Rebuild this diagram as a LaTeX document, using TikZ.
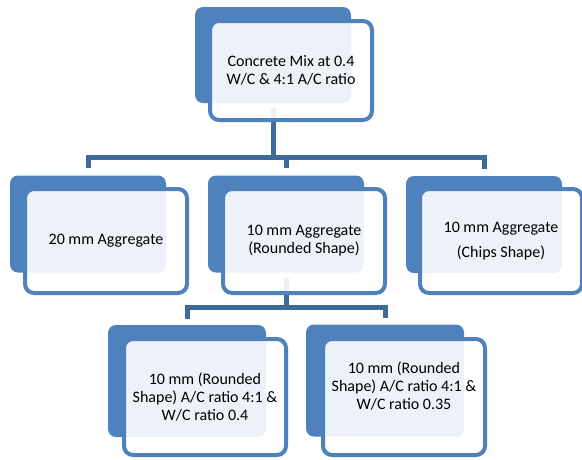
\documentclass[tikz,border=0pt]{standalone}
\usepackage{fontspec}
\setmainfont{Carlito}
\usepackage{xcolor}
\definecolor{cobalt}{HTML}{4F81BD}
\definecolor{denim}{HTML}{3F6A9C}
\usepackage{tikz}
\usetikzlibrary{positioning}

\tikzset{
  backbox/.style={rectangle, rounded corners=8pt, fill=cobalt, inner sep=0pt,
    minimum width=156pt, minimum height=97pt},
  frontbox/.style={rectangle, rounded corners=9pt, draw=cobalt, line width=4pt,
    fill=white, fill opacity=0.9, text opacity=1, text=black, align=center,
    minimum width=162pt, minimum height=104pt,
    font=\fontsize{16}{18}\selectfont},
  link/.style={draw=denim, line width=5pt},
}

\begin{document}
\begin{tikzpicture}[x=1pt, y=-1pt]
  \useasboundingbox (0,0) rectangle (582,459);

  % Back plates
  \node[backbox, minimum height=96pt] (concreteback) at (273,55) {};
  \node[backbox] (agg20back)  at (88,224) {};
  \node[backbox] (agg10rback) at (286,224) {};
  \node[backbox] (agg10cback) at (484,224.5) {};
  \node[backbox, minimum width=158pt, minimum height=112pt] (ratio40back) at (187,381) {};
  \node[backbox, minimum width=158pt, minimum height=112pt] (ratio35back) at (385,380.5) {};

  % Links, level 1
  \coordinate (bus1) at (273,157);
  \draw[link, shorten <=5pt] (concreteback.south) -- (bus1);
  \draw[link, shorten <=7pt, shorten >=7pt] (agg20back.north) |- (bus1) -| (agg10cback.north);
  \draw[link, shorten >=7pt] (agg10rback.north |- bus1) -- (agg10rback.north);

  % Links, level 2
  \coordinate (bus2) at (286,307);
  \draw[link, shorten <=5pt] (agg10rback.south) -- (bus2);
  \draw[link, shorten <=6pt, shorten >=6pt] (ratio40back.north) |- (bus2) -| (ratio35back.north);

  % Front cards
  \node[frontbox, minimum height=99pt] (concrete) at (291,70.5)
    {Concrete Mix at 0.4\\W/C \& 4:1 A/C ratio};
  \node[frontbox] (agg20)  at (106,241) {20 mm Aggregate};
  \node[frontbox] (agg10r) at (304,241) {10 mm Aggregate\\(Rounded Shape)};
  \node[frontbox] (agg10c) at (501,241) {10 mm Aggregate\\[7pt](Chips Shape)};
  \node[frontbox, minimum height=116pt] (ratio40) at (205,397)
    {10 mm (Rounded\\Shape) A/C ratio 4:1 \&\\W/C ratio 0.4};
  \node[frontbox, minimum height=116pt] (ratio35) at (404,397)
    {10 mm (Rounded\\Shape) A/C ratio 4:1 \&\\W/C ratio 0.35\\[4pt]\mbox{}};
\end{tikzpicture}
\end{document}
